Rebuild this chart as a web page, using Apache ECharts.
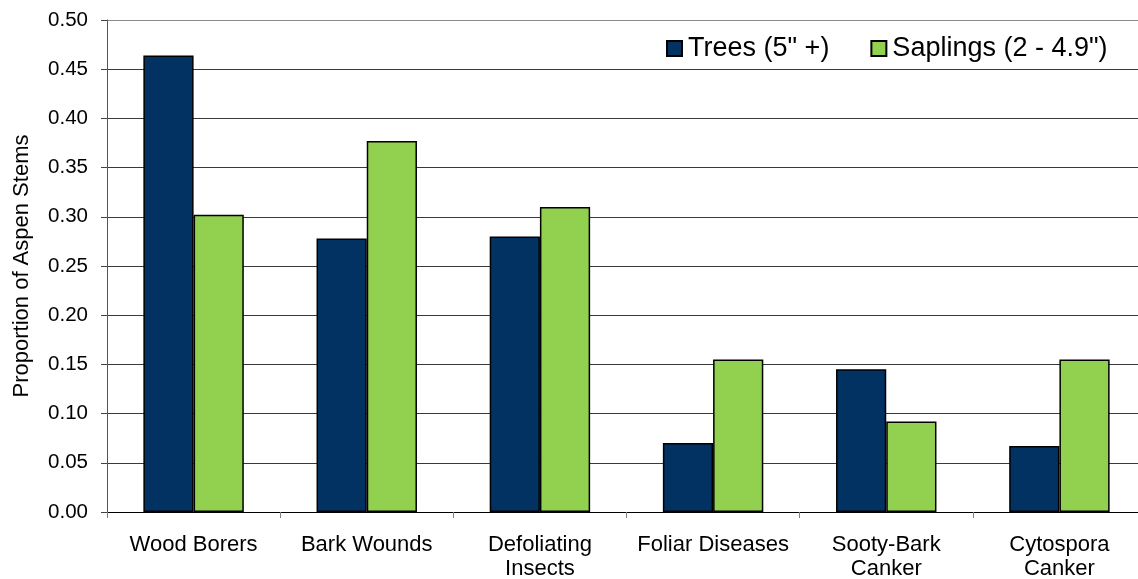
<!DOCTYPE html>
<html>
<head>
<meta charset="utf-8">
<script src="https://cdn.jsdelivr.net/npm/echarts@6/dist/echarts.min.js"></script>
<style>
  html, body { margin: 0; padding: 0; background: #fff; }
  #chart { width: 1138px; height: 579px; }
</style>
</head>
<body>
<div id="chart"></div>
<script>
// Damage agents recorded on aspen, by stem size class
const categories = ['Wood Borers', 'Bark Wounds', 'Defoliating\nInsects', 'Foliar Diseases', 'Sooty-Bark\nCanker', 'Cytospora\nCanker'];
const trees = [0.464, 0.278, 0.280, 0.070, 0.145, 0.067];
const saplings = [0.302, 0.377, 0.310, 0.155, 0.092, 0.155];
const seriesNames = ['Trees (5" +)', 'Saplings (2 - 4.9")'];
const yTicks = { min: 0, max: 0.5, interval: 0.05 };

const FONT = '"Liberation Sans", Arial, sans-serif';
const chart = echarts.init(document.getElementById('chart'), null, { renderer: 'canvas' });

// gridline colours: the top line (0.50) is drawn lighter, like a frame edge
const gridColors = [];
for (let i = 0; i <= 10; i++) gridColors.push(i === 10 ? '#8a8a8a' : '#3a3a3a');

chart.setOption({
  animation: false,
  backgroundColor: '#ffffff',
  textStyle: { fontFamily: FONT, color: '#000' },
  grid: { left: 107, right: -8, top: 20, bottom: 67, containLabel: false, outerBoundsMode: 'none' },
  legend: {
    data: seriesNames,
    left: 666,
    top: 35,
    padding: 0,
    icon: 'rect',
    itemWidth: 15,
    itemHeight: 15,
    itemGap: 41,
    textStyle: { fontFamily: FONT, fontSize: 27, color: '#000', padding: [0, 0, 0, 1] }
  },
  xAxis: {
    type: 'category',
    data: categories,
    axisLine: { show: true, lineStyle: { color: '#000', width: 1 } },
    axisTick: { show: true, alignWithLabel: false, length: 6, lineStyle: { color: '#808080' } },
    axisLabel: {
      fontFamily: FONT, fontSize: 22, color: '#000', margin: 21,
      lineHeight: 24, interval: 0
    },
    splitLine: { show: false }
  },
  yAxis: {
    type: 'value',
    min: yTicks.min,
    max: yTicks.max,
    interval: yTicks.interval,
    name: 'Proportion of Aspen Stems',
    nameLocation: 'middle',
    nameGap: 74,
    nameTextStyle: { fontFamily: FONT, fontSize: 22, color: '#000' },
    axisLine: { show: true, lineStyle: { color: '#555', width: 1 } },
    axisTick: { show: true, length: 6, lineStyle: { color: '#444' } },
    axisLabel: {
      fontFamily: FONT, fontSize: 20.5, color: '#000', margin: 19,
      formatter: v => v.toFixed(2)
    },
    splitLine: { show: true, lineStyle: { color: gridColors, width: 1 } }
  },
  series: [
    {
      name: seriesNames[0],
      type: 'bar',
      data: trees,
      barGap: '0%',
      barCategoryGap: '42%',
      itemStyle: { color: '#023262', borderColor: '#000', borderWidth: 1.5 }
    },
    {
      name: seriesNames[1],
      type: 'bar',
      data: saplings,
      barGap: '0%',
      barCategoryGap: '42%',
      itemStyle: { color: '#92d050', borderColor: '#000', borderWidth: 1.5 }
    }
  ]
});
</script>
</body>
</html>
